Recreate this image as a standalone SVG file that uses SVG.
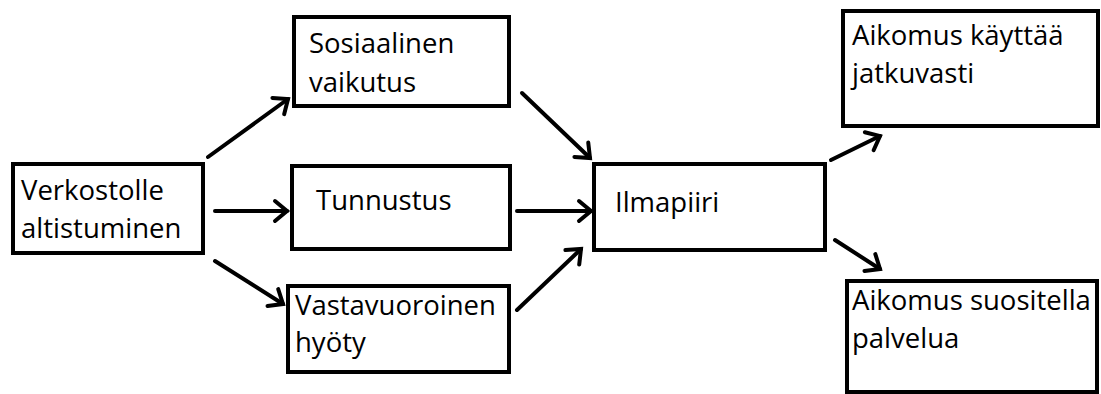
<svg xmlns="http://www.w3.org/2000/svg" width="1101" height="394" viewBox="0 0 1101 394">
<defs>
<marker id="arr" markerUnits="userSpaceOnUse" markerWidth="30" markerHeight="30" viewBox="-15 -15 30 30" refX="0" refY="0" orient="auto">
<path d="M-12,-10 L0,0 L-12,10" fill="none" stroke="#000" stroke-width="4" stroke-linecap="round" stroke-linejoin="miter"/>
</marker>
<style>
.box{fill:#fff;stroke:#000;stroke-width:4}
.t{font-family:"Open Sans","Liberation Sans",Arial,sans-serif;font-size:27.5px;fill:#000}
.c{stroke:#000;stroke-width:4;fill:none;stroke-linecap:round;marker-end:url(#arr)}
</style>
</defs>
<rect width="1101" height="394" fill="#fff"/>
<g id="connectors">
<line class="c" x1="208" y1="157" x2="288" y2="99"/>
<line class="c" x1="215" y1="211" x2="287" y2="211"/>
<line class="c" x1="215" y1="261" x2="283" y2="304"/>
<line class="c" x1="522" y1="93" x2="590" y2="158"/>
<line class="c" x1="517" y1="211" x2="591" y2="211"/>
<line class="c" x1="517" y1="310" x2="581" y2="249"/>
<line class="c" x1="831" y1="160" x2="880" y2="136"/>
<line class="c" x1="835" y1="240" x2="880" y2="269"/>
</g>
<g id="verkostolle">
<rect class="box" x="13" y="164" width="190" height="89"/>
<text class="t" x="21" y="200">Verkostolle</text>
<text class="t" x="21" y="238">altistuminen</text>
</g>
<g id="sosiaalinen">
<rect class="box" x="294" y="17" width="215" height="89"/>
<text class="t" x="309" y="53">Sosiaalinen</text>
<text class="t" x="309" y="92">vaikutus</text>
</g>
<g id="tunnustus">
<rect class="box" x="292" y="166" width="218" height="83"/>
<text class="t" x="316" y="210">Tunnustus</text>
</g>
<g id="vastavuoroinen">
<rect class="box" x="288" y="286" width="221" height="86"/>
<text class="t" x="295" y="315">Vastavuoroinen</text>
<text class="t" x="295" y="352">hyöty</text>
</g>
<g id="ilmapiiri">
<rect class="box" x="594" y="164" width="231" height="86"/>
<text class="t" x="615" y="212">Ilmapiiri</text>
</g>
<g id="aikomus-kayttaa">
<rect class="box" x="843" y="11" width="255" height="115"/>
<text class="t" x="852" y="45">Aikomus käyttää</text>
<text class="t" x="852" y="83">jatkuvasti</text>
</g>
<g id="aikomus-suositella">
<rect class="box" x="847" y="281" width="250" height="111"/>
<text class="t" x="852" y="310">Aikomus suositella</text>
<text class="t" x="852" y="348">palvelua</text>
</g>
</svg>
